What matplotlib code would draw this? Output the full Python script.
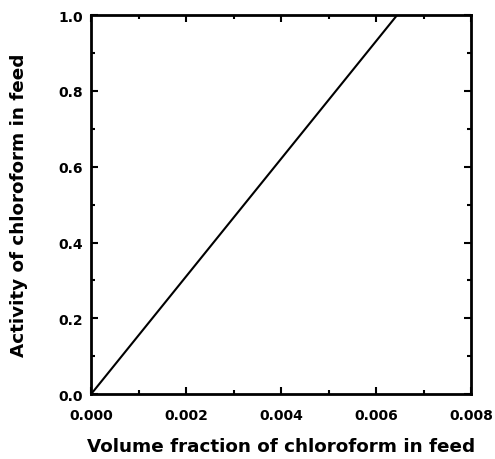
import numpy as np
import matplotlib.pyplot as plt
from matplotlib.ticker import MultipleLocator, FormatStrFormatter

# data
volume_fraction = [0.0, 0.00644]
activity = [0.0, 1.0]

plt.rcParams['font.family'] = ['DejaVu Sans']
plt.rcParams['font.weight'] = 'bold'

fig = plt.figure(figsize=(4.95, 4.6), dpi=100)
ax = fig.add_axes([0.184, 0.141, 0.768, 0.824])

ax.plot(volume_fraction, activity, color="black", linewidth=1.5)

ax.set_xlim(0, 0.008)
ax.set_ylim(0, 1.0)

ax.xaxis.set_major_locator(MultipleLocator(0.002))
ax.xaxis.set_minor_locator(MultipleLocator(0.001))
ax.yaxis.set_major_locator(MultipleLocator(0.2))
ax.yaxis.set_minor_locator(MultipleLocator(0.1))
ax.xaxis.set_major_formatter(FormatStrFormatter('%.3f'))
ax.yaxis.set_major_formatter(FormatStrFormatter('%.1f'))

ax.tick_params(which="both", direction="in", top=True, right=True,
               labelsize=10, width=1.5)
ax.tick_params(which="major", length=5)
ax.tick_params(which="minor", length=3)
ax.tick_params(axis="x", pad=10)
ax.tick_params(axis="y", pad=6)

for spine in ax.spines.values():
    spine.set_linewidth(2)

ax.set_xlabel("Volume fraction of chloroform in feed",
              fontsize=13.2, fontweight="bold", labelpad=11)
ax.set_ylabel("Activity of chloroform in feed",
              fontsize=13.2, fontweight="bold", labelpad=22)

plt.savefig("out.png", dpi=100)
